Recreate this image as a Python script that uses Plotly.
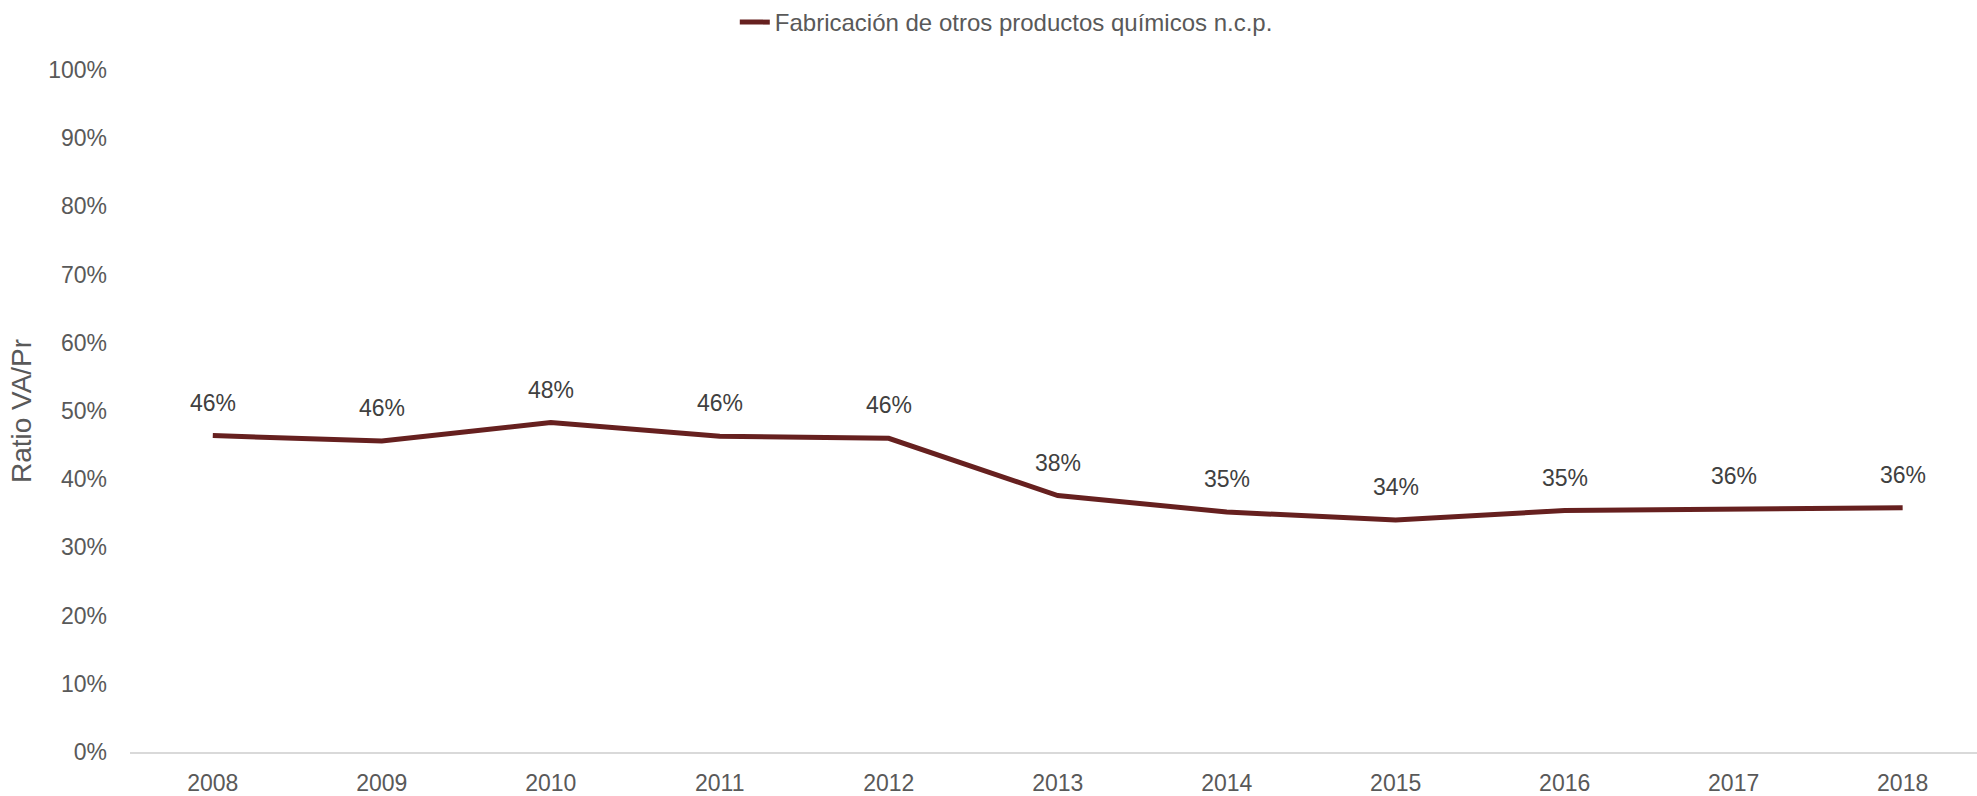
import plotly.graph_objects as go

years = ["2008", "2009", "2010", "2011", "2012", "2013", "2014", "2015", "2016", "2017", "2018"]
ratio = [0.464, 0.456, 0.483, 0.463, 0.460, 0.376, 0.352, 0.340, 0.354, 0.356, 0.358]
series_name = "Fabricación de otros productos químicos n.c.p."
y_ticks = [i / 10 for i in range(11)]
y_tick_labels = [f"{int(round(t * 100))}%" for t in y_ticks]
labels = [f"{v:.0%}" for v in ratio]

FONT = "Liberation Sans, Arial, sans-serif"
LINE_COLOR = "#66201F"

fig = go.Figure()
fig.add_trace(go.Scatter(
    x=years, y=ratio, mode="lines", name=series_name,
    line=dict(color=LINE_COLOR, width=5),
    showlegend=True,
))

for i, (y, t) in enumerate(zip(ratio, labels)):
    fig.add_annotation(x=i, y=y, xref="x", yref="y", text=t, showarrow=False, yshift=33,
                       font=dict(family=FONT, size=23, color="#404040"))

fig.update_layout(
    width=1977, height=796,
    margin=dict(l=130, r=0, t=70, b=35),
    paper_bgcolor="white", plot_bgcolor="white",
    font=dict(family=FONT, size=23, color="#595959"),
    showlegend=True,
    legend=dict(orientation="h", x=0.509, xref="container", xanchor="center",
                y=1.0, yanchor="top", yref="container",
                font=dict(family=FONT, size=24, color="#595959"),
                bgcolor="rgba(0,0,0,0)"),
    xaxis=dict(type="category", range=[-0.49, 10.44], showgrid=False, zeroline=False,
               showline=True, linecolor="#D9D9D9", linewidth=1.5,
               ticks="", ticklabelstandoff=10,
               tickfont=dict(family=FONT, size=23, color="#595959")),
    yaxis=dict(range=[0, 1], tickvals=y_ticks, ticktext=y_tick_labels,
               showgrid=False, zeroline=False, showline=False, ticks="",
               ticklabelstandoff=22,
               tickfont=dict(family=FONT, size=23, color="#595959")),
)
fig.update_yaxes(title=dict(text="Ratio VA/Pr", standoff=8,
                            font=dict(family=FONT, size=28, color="#595959")))

fig.write_html("out.html", config={"displayModeBar": False},
               post_script="document.body.style.margin='0';")
